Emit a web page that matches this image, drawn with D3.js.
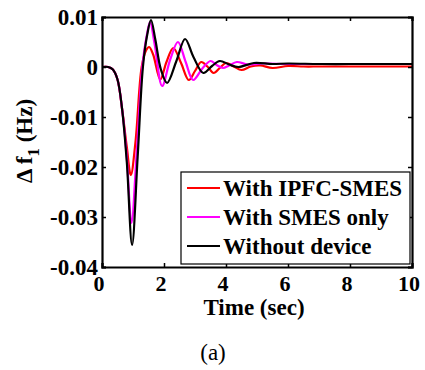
<!DOCTYPE html>
<html>
<head>
<meta charset="utf-8">
<script src="https://cdn.jsdelivr.net/npm/d3@7"></script>
<style>
  body { margin: 0; background: #fff; }
  svg { display: block; }
</style>
</head>
<body>
<div id="root"></div>
<script>
const width = 425;
const height = 370;

// (time in s, deviation in Hz)
const tRed = [0, 0.2, 0.35, 0.5, 0.65, 0.8, 0.93, 1.08, 1.28, 1.42, 1.52, 1.65, 1.88, 2.08, 2.3, 2.55, 2.8, 3.0, 3.2, 3.4, 3.6, 3.8, 4.0, 4.25, 4.5, 4.8, 5.1, 5.5, 6, 6.5, 7, 8, 9, 10];
const fRed = [0, 0, -0.0005, -0.0025, -0.0085, -0.016, -0.0216, -0.015, 0, 0.0033, 0.004, 0.0025, -0.0025, 0.001, 0.0038, 0.0008, -0.0026, -0.0008, 0.001, 0.0001, -0.0012, -0.0002, 0.0008, 0.0001, -0.0006, 0.0001, 0.0003, -0.0002, 0.0002, 0.0001, 0.0001, 0.0001, 0.0001, 0.0001];

const tMag = [0, 0.2, 0.35, 0.5, 0.65, 0.8, 0.95, 1.12, 1.3, 1.45, 1.55, 1.7, 1.94, 2.2, 2.45, 2.7, 2.94, 3.25, 3.5, 3.7, 3.9, 4.1, 4.35, 4.7, 5.2, 6, 7, 8, 9, 10];
const fMag = [0, 0, -0.0005, -0.0025, -0.0085, -0.018, -0.0312, -0.017, 0, 0.0065, 0.009, 0.0045, -0.0038, 0.0015, 0.005, 0.001, -0.0026, -0.0002, 0.0012, 0.0004, -0.0002, 0.0003, 0.001, 0.0005, 0.0007, 0.0006, 0.0006, 0.0006, 0.0006, 0.0006];

const tBlk = [0, 0.2, 0.35, 0.5, 0.65, 0.8, 0.97, 1.15, 1.32, 1.46, 1.58, 1.72, 1.9, 2.1, 2.4, 2.68, 2.95, 3.27, 3.55, 3.8, 4.1, 4.4, 4.9, 5.5, 6, 7, 8, 9, 10];
const fBlk = [0, 0, -0.0005, -0.0025, -0.0085, -0.019, -0.0356, -0.018, 0, 0.0065, 0.0094, 0.0055, -0.0005, -0.0032, 0.0012, 0.0056, 0.002, -0.0012, 0.0002, 0.0012, 0.0005, 0.0, 0.0008, 0.0006, 0.0007, 0.0006, 0.0006, 0.0006, 0.0006];

const seriesNames = ['With IPFC-SMES', 'With SMES only', 'Without device'];
const seriesColors = ['#ff0000', '#ff00ff', '#000000'];
const xTicks = [0, 2, 4, 6, 8, 10];
const yTicks = [0.01, 0, -0.01, -0.02, -0.03, -0.04];
const yTickLabels = ['0.01', '0', '-0.01', '-0.02', '-0.03', '-0.04'];

const serif = "'Liberation Serif', 'Times New Roman', Times, serif";
const fs = 23;

const margin = {left: 102, right: 13, top: 17, bottom: 103};
const x = d3.scaleLinear().domain([0, 10]).range([margin.left, width - margin.right]);
const y = d3.scaleLinear().domain([-0.04, 0.01]).range([height - margin.bottom, margin.top]);

const svg = d3.select('#root')
    .append('svg')
    .attr('width', width)
    .attr('height', height)
    .attr('font-family', serif);

svg.append('clipPath').attr('id', 'clip')
    .append('rect')
    .attr('x', x(0)).attr('y', y(0.01))
    .attr('width', x(10) - x(0)).attr('height', y(-0.04) - y(0.01));

const line = d3.line()
    .x(d => x(d[0]))
    .y(d => y(d[1]))
    .curve(d3.curveCatmullRom.alpha(0.5));

const series = [
    d3.zip(tRed, fRed),
    d3.zip(tMag, fMag),
    d3.zip(tBlk, fBlk)
];

svg.append('g')
    .attr('clip-path', 'url(#clip)')
    .selectAll('path')
    .data(series)
    .join('path')
    .attr('d', d => line(d))
    .attr('fill', 'none')
    .attr('stroke', (d, i) => seriesColors[i])
    .attr('stroke-width', 2.2)
    .attr('stroke-linejoin', 'round');

// axes box with inward ticks on all sides
const axBottom = d3.axisBottom(x).tickValues(xTicks).tickSize(-4).tickFormat('');
const axTop = d3.axisTop(x).tickValues(xTicks).tickSize(-4).tickFormat('');
const axLeft = d3.axisLeft(y).tickValues(yTicks).tickSize(-4).tickFormat('');
const axRight = d3.axisRight(y).tickValues(yTicks).tickSize(-4).tickFormat('');

svg.append('g').attr('transform', `translate(0,${y(-0.04)})`).call(axBottom);
svg.append('g').attr('transform', `translate(0,${y(0.01)})`).call(axTop);
svg.append('g').attr('transform', `translate(${x(0)},0)`).call(axLeft);
svg.append('g').attr('transform', `translate(${x(10)},0)`).call(axRight);
svg.selectAll('.domain').attr('stroke', '#000').attr('stroke-width', 2.2);
svg.selectAll('.tick line').attr('stroke', '#000').attr('stroke-width', 1.5);

// tick labels
svg.append('g')
    .selectAll('text')
    .data(xTicks)
    .join('text')
    .attr('x', d => x(d) - 3)
    .attr('y', 291)
    .attr('text-anchor', 'middle')
    .attr('font-size', 22)
    .attr('font-weight', 'bold')
    .text(d => d);

svg.append('g')
    .selectAll('text')
    .data(yTicks)
    .join('text')
    .attr('x', 98)
    .attr('y', d => y(d) + 8)
    .attr('text-anchor', 'end')
    .attr('font-size', fs)
    .attr('font-weight', 'bold')
    .text((d, i) => yTickLabels[i]);

// axis titles
svg.append('text')
    .attr('x', 254)
    .attr('y', 315)
    .attr('text-anchor', 'middle')
    .attr('font-size', fs)
    .attr('font-weight', 'bold')
    .text('Time (sec)');

const ylab = svg.append('text')
    .attr('transform', 'translate(32,141) rotate(-90)')
    .attr('text-anchor', 'middle')
    .attr('font-size', fs)
    .attr('font-weight', 'bold');
ylab.append('tspan').text('\u0394 f');
ylab.append('tspan').attr('dy', 7).attr('font-size', 17).text('1');
ylab.append('tspan').attr('dy', -7).text(' (Hz)');

svg.append('text')
    .attr('x', 213)
    .attr('y', 360)
    .attr('text-anchor', 'middle')
    .attr('font-size', fs)
    .text('(a)');

// legend
const legend = svg.append('g');
legend.append('rect')
    .attr('x', 181).attr('y', 172)
    .attr('width', 229).attr('height', 92)
    .attr('fill', '#fff')
    .attr('stroke', '#000')
    .attr('stroke-width', 1.2);

const item = legend.selectAll('g.item')
    .data(seriesNames)
    .join('g')
    .attr('class', 'item')
    .attr('transform', (d, i) => `translate(0,${188 + i * 29})`);

item.append('line')
    .attr('x1', 187).attr('x2', 220)
    .attr('stroke', (d, i) => seriesColors[i])
    .attr('stroke-width', 2.2);

item.append('text')
    .attr('x', 223)
    .attr('y', 8)
    .attr('font-size', fs)
    .attr('font-weight', 'bold')
    .text(d => d);
</script>
</body>
</html>
